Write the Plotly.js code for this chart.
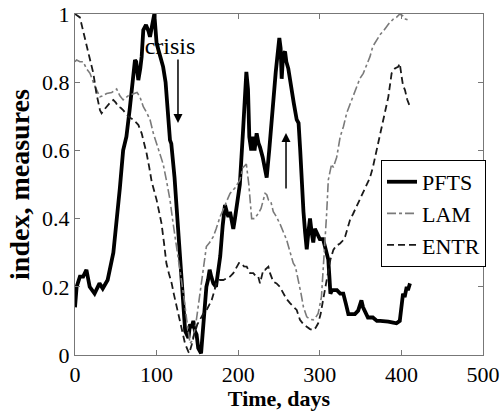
<!DOCTYPE html>
<html>
<head>
<meta charset="utf-8">
<script src="https://cdn.plot.ly/plotly-3.0.1.min.js"></script>
<style>html,body{margin:0;padding:0;background:#fff;font-family:'Liberation Serif';}#chart{width:504px;height:411px;}</style>
</head>
<body>
<div id="chart"></div>
<script>
// PFTS series
const pftsX = [0,2,6,10,14,18,24,30,34,40,47,51,55,59,63,67,71.5,73.5,75,77.6,80,81.7,83.7,87,90,91.9,94,97.2,100,104,108,111,112,115,116.4,118,120,122,124.6,127,130.7,133,135,137,139,141,143,145,147,149,151,154.5,157,159,161,163,165,167,169.5,172.8,176,178,181,183.8,186,188,190,192,194,196,198,202,206,210,212,213.6,216,218,220,222.6,225,226.7,230,232,234.9,238,242,246,250.4,252,253.3,255,257.4,259,261.4,265,268,271.7,274,276,277.8,280,282,284,286,288,290,292,294,296,300,304,307,310.4,312,313,315,318,321,325,328.8,332,335,338,343,347,351,353,355,359,365,370,374,380,384,390,394,398,400,402,404,406.5,408,410.5];
const pftsY = [0.14,0.2,0.23,0.23,0.25,0.2,0.18,0.21,0.195,0.22,0.30,0.39,0.49,0.6,0.64,0.72,0.826,0.865,0.86,0.806,0.84,0.875,0.953,0.968,0.95,0.933,0.96,1.0,0.914,0.88,0.845,0.80,0.767,0.70,0.63,0.62,0.58,0.52,0.43,0.36,0.22,0.14,0.07,0.06,0.05,0.09,0.08,0.1,0.07,0.06,0.02,0.005,0.07,0.12,0.2,0.22,0.25,0.23,0.21,0.2,0.25,0.29,0.38,0.44,0.42,0.405,0.42,0.39,0.37,0.40,0.43,0.50,0.66,0.83,0.78,0.64,0.60,0.64,0.60,0.65,0.62,0.61,0.58,0.55,0.52,0.60,0.72,0.83,0.93,0.90,0.81,0.88,0.89,0.86,0.84,0.78,0.74,0.69,0.68,0.60,0.51,0.42,0.36,0.31,0.36,0.40,0.36,0.33,0.37,0.36,0.34,0.34,0.31,0.28,0.22,0.18,0.19,0.19,0.19,0.18,0.18,0.15,0.12,0.12,0.12,0.13,0.16,0.14,0.13,0.11,0.11,0.10,0.10,0.10,0.098,0.095,0.093,0.10,0.14,0.18,0.17,0.20,0.19,0.21];

// LAM series
const lamX = [0,2,6,10,14,18.4,24,30.6,34,38.8,45,51,55,59,65,71.4,76,79.6,83.7,88,92,96,100,104,108,112,116.4,120,124.6,130.7,134,136.9,139,141,143,145,148,151,154,157,161,165,169.5,173,177.7,184,190,196,202,206,210,213,216.5,220,224.6,228,233,235,237,240,243,247,252,259.4,264,267.5,270,273.7,277,280,284,288,292,295,298,302,304,306,308.4,310.4,312.5,314.5,316.6,320.7,325,329,333,337,341,345,349,353.3,357,361.5,365,369.7,374,378,384,390,394,398,402.3,405,408.5];
const lamY = [0.86,0.865,0.86,0.86,0.84,0.826,0.79,0.757,0.76,0.767,0.77,0.78,0.76,0.748,0.76,0.767,0.77,0.757,0.728,0.71,0.69,0.65,0.62,0.59,0.56,0.513,0.455,0.39,0.318,0.22,0.16,0.103,0.06,0.034,0.04,0.054,0.09,0.14,0.2,0.25,0.318,0.33,0.347,0.37,0.405,0.44,0.474,0.49,0.513,0.55,0.56,0.50,0.40,0.40,0.415,0.43,0.474,0.47,0.455,0.45,0.42,0.405,0.38,0.337,0.30,0.269,0.26,0.22,0.18,0.14,0.112,0.105,0.103,0.11,0.122,0.17,0.24,0.318,0.415,0.513,0.54,0.56,0.55,0.58,0.64,0.67,0.71,0.735,0.76,0.787,0.81,0.826,0.85,0.875,0.905,0.924,0.94,0.95,0.97,0.985,0.99,1.0,0.994,0.985,0.982];

// ENTR series
const entrX = [0,3,6,10,14,18,22.5,26,30.6,32.6,36,38.8,43,47,50,53,56,59,65.4,71.4,77.6,81.7,85,87.8,91,94,100,106,109,112,115,118.5,121,124.6,127,130.7,134.8,138.9,140,143,146,150,153,157,161.4,164,167.5,171,173.6,177,181.8,186,190,194,198,201,204.3,207,210.4,214.5,218.5,222,224.6,226.7,230.8,233,237,239,243,247,251,255,259,263.5,268,271.7,275.7,280,284,288,292,295,298,301,304,307,310.4,313,316.6,320,324.8,328,331,334,337,341,345,349,353.3,356,359.5,361.5,365,369.7,374,377.8,381,384,388,392,396,398,400.3,402,404.4,407,410.5];
const entrY = [1.0,0.995,0.99,0.95,0.914,0.87,0.826,0.77,0.718,0.709,0.72,0.728,0.74,0.748,0.74,0.728,0.725,0.718,0.699,0.69,0.675,0.65,0.62,0.591,0.55,0.508,0.455,0.386,0.33,0.269,0.24,0.21,0.18,0.142,0.11,0.073,0.034,0.01,0.005,0.03,0.06,0.09,0.103,0.12,0.132,0.145,0.161,0.19,0.215,0.22,0.22,0.225,0.23,0.24,0.26,0.27,0.269,0.26,0.259,0.24,0.24,0.23,0.23,0.21,0.25,0.25,0.259,0.24,0.215,0.21,0.2,0.18,0.165,0.152,0.14,0.132,0.103,0.09,0.083,0.076,0.073,0.08,0.093,0.12,0.161,0.2,0.24,0.28,0.308,0.32,0.327,0.335,0.347,0.37,0.396,0.415,0.435,0.455,0.474,0.49,0.508,0.52,0.55,0.6,0.645,0.69,0.72,0.757,0.826,0.84,0.845,0.855,0.816,0.79,0.777,0.75,0.728];

const xTicks = [0,100,200,300,400,500];
const yTicks = [0,0.2,0.4,0.6,0.8,1];
const seriesNames = ['PFTS','LAM','ENTR'];

const serif = 'Liberation Serif';

const traces = [
  {x:[116.5], y:[0.9], mode:'text', text:['crisis'], textfont:{family:serif, size:24, color:'#000'}, showlegend:false, hoverinfo:'skip'},
  {x:pftsX, y:pftsY, name:seriesNames[0], mode:'lines', line:{color:'#000', width:3.8}},
  {x:lamX, y:lamY, name:seriesNames[1], mode:'lines', line:{color:'#7a7a7a', width:1.6, dash:'dashdot'}},
  {x:entrX, y:entrY, name:seriesNames[2], mode:'lines', line:{color:'#1a1a1a', width:1.8, dash:'7px,4px'}}
];

function axisBase() {
  return {
    showgrid:false, zeroline:false, showline:true, linecolor:'#777', linewidth:1,
    ticks:'inside', ticklen:5, tickcolor:'#777', mirror:'ticks',
    tickfont:{family:serif, size:22, color:'#000'}
  };
}

const layout = {
  width:504, height:411, autosize:false,
  margin:{l:75, r:21, t:14, b:56},
  paper_bgcolor:'#fff', plot_bgcolor:'#fff',
  xaxis:Object.assign(axisBase(), {range:[0,500], tickvals:xTicks,
    title:{text:'<b>Time, days</b>', font:{family:serif, size:22, color:'#000'}, standoff:4}}),
  yaxis:Object.assign(axisBase(), {range:[0,1], tickvals:yTicks,
    title:{text:'<b>index, measures</b>', font:{family:serif, size:28, color:'#000'}, standoff:4}}),
  legend:{x:1.0074, xanchor:'right', y:0.572, yanchor:'top', bgcolor:'#fff', bordercolor:'#000', borderwidth:1,
    font:{family:serif, size:22, color:'#000'}, tracegroupgap:0},
  annotations:[
    {x:126.2, y:0.68, ax:126.2, ay:0.871, xref:'x', yref:'y', axref:'x', ayref:'y', text:'', showarrow:true, arrowhead:2, arrowsize:1.2, arrowwidth:1.5, arrowcolor:'#000'},
    {x:258.6, y:0.651, ax:258.6, ay:0.484, xref:'x', yref:'y', axref:'x', ayref:'y', text:'', showarrow:true, arrowhead:2, arrowsize:1.2, arrowwidth:1.5, arrowcolor:'#000'}
  ],
  showlegend:true
};

Plotly.newPlot('chart', traces, layout, {displayModeBar:false});
</script>
</body>
</html>
